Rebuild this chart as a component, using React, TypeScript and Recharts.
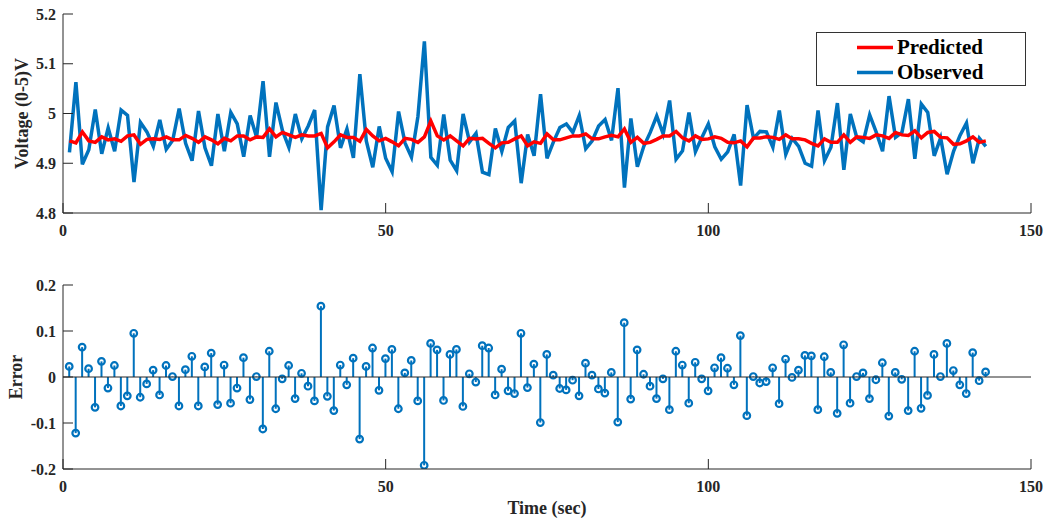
import React from 'react';
import {
  ComposedChart,
  Line,
  Bar,
  XAxis,
  YAxis,
  ReferenceLine,
  Legend,
  Label,
} from 'recharts';

// Readings for samples 1..143 (x = sample index, seconds)
const predicted = [
  4.945, 4.941, 4.963, 4.945, 4.942, 4.953, 4.947, 4.949, 4.944, 4.955,
  4.957, 4.938, 4.948, 4.949, 4.948, 4.953, 4.947, 4.947, 4.956, 4.950,
  4.942, 4.953, 4.947, 4.939, 4.950, 4.945, 4.955, 4.955, 4.947, 4.953,
  4.952, 4.969, 4.953, 4.962, 4.957, 4.952, 4.957, 4.955, 4.955, 4.960,
  4.931, 4.943, 4.957, 4.952, 4.952, 4.944, 4.968, 4.955, 4.945, 4.950,
  4.943, 4.935, 4.950, 4.948, 4.942, 4.953, 4.985, 4.955, 4.947, 4.955,
  4.945, 4.935, 4.950, 4.949, 4.950, 4.940, 4.931, 4.941, 4.942, 4.949,
  4.955, 4.935, 4.943, 4.940, 4.959, 4.947, 4.947, 4.951, 4.955, 4.955,
  4.959, 4.949, 4.949, 4.953, 4.956, 4.953, 4.969, 4.942, 4.952, 4.940,
  4.942, 4.948, 4.955, 4.955, 4.964, 4.951, 4.945, 4.955, 4.948, 4.949,
  4.953, 4.950, 4.942, 4.941, 4.945, 4.933, 4.951, 4.951, 4.953, 4.952,
  4.948, 4.957, 4.949, 4.949, 4.947, 4.940, 4.935, 4.949, 4.942, 4.942,
  4.957, 4.942, 4.953, 4.952, 4.950, 4.957, 4.955, 4.950, 4.962, 4.957,
  4.956, 4.965, 4.951, 4.962, 4.964, 4.952, 4.951, 4.938, 4.939, 4.945,
  4.953, 4.942, 4.945,
];

const observed = [
  4.922, 5.063, 4.898, 4.927, 5.008, 4.919, 4.971, 4.924, 5.007, 4.996,
  4.862, 4.982, 4.963, 4.934, 4.987, 4.928, 4.946, 5.010, 4.940, 4.905,
  5.005, 4.931, 4.895, 4.999, 4.924, 5.002, 4.979, 4.913, 4.996, 4.952,
  5.065, 4.913, 5.022, 4.966, 4.932, 4.999, 4.949, 4.975, 5.007, 4.806,
  4.973, 5.016, 4.931, 4.969, 4.911, 5.079, 4.945, 4.892, 4.974, 4.910,
  4.883, 5.004, 4.941, 4.912, 4.994, 5.145, 4.912, 4.896, 4.998, 4.906,
  4.885, 4.999, 4.943, 4.960, 4.882, 4.877, 4.970, 4.924, 4.972, 4.985,
  4.860, 4.958, 4.915, 5.039, 4.910, 4.943, 4.972, 4.979, 4.962, 4.996,
  4.929, 4.945, 4.975, 4.988, 4.946, 5.051, 4.851, 4.990, 4.893, 4.934,
  4.962, 4.995, 4.959, 5.026, 4.908, 4.925, 5.002, 4.923, 4.952, 4.979,
  4.933, 4.908, 4.923, 4.958, 4.855, 5.017, 4.950, 4.964, 4.963, 4.932,
  5.006, 4.918, 4.950, 4.934, 4.900, 4.894, 5.006, 4.905, 4.932, 5.021,
  4.887, 4.999, 4.952, 4.943, 4.997, 4.963, 4.924, 5.035, 4.952, 4.962,
  5.029, 4.909, 5.019, 5.002, 4.915, 4.951, 4.878, 4.924, 4.956, 4.981,
  4.900, 4.950, 4.934,
];

const error = [
  0.023, -0.122, 0.065, 0.018, -0.066, 0.034, -0.024, 0.025, -0.063, -0.041,
  0.095, -0.044, -0.015, 0.015, -0.039, 0.025, 0.001, -0.063, 0.016, 0.045,
  -0.063, 0.022, 0.052, -0.060, 0.026, -0.057, -0.024, 0.042, -0.049, 0.001,
  -0.113, 0.056, -0.069, -0.004, 0.025, -0.047, 0.008, -0.020, -0.052, 0.154,
  -0.042, -0.073, 0.026, -0.017, 0.041, -0.135, 0.023, 0.063, -0.029, 0.040,
  0.060, -0.069, 0.009, 0.036, -0.052, -0.192, 0.073, 0.059, -0.051, 0.049,
  0.060, -0.064, 0.007, -0.011, 0.068, 0.063, -0.039, 0.017, -0.030, -0.036,
  0.095, -0.023, 0.028, -0.099, 0.049, 0.004, -0.025, -0.028, -0.007, -0.041,
  0.030, 0.004, -0.026, -0.035, 0.010, -0.098, 0.118, -0.048, 0.059, 0.006,
  -0.020, -0.047, -0.004, -0.071, 0.056, 0.026, -0.057, 0.032, -0.004, -0.030,
  0.020, 0.042, 0.019, -0.017, 0.090, -0.084, 0.001, -0.013, -0.010, 0.020,
  -0.058, 0.039, -0.001, 0.015, 0.047, 0.046, -0.071, 0.044, 0.010, -0.079,
  0.070, -0.057, 0.001, 0.009, -0.047, -0.006, 0.031, -0.085, 0.010, -0.005,
  -0.073, 0.056, -0.068, -0.040, 0.049, 0.001, 0.073, 0.014, -0.017, -0.036,
  0.053, -0.008, 0.011,
];

const timeTicks = [0, 50, 100, 150];
const voltageTicks = [4.8, 4.9, 5, 5.1, 5.2];
const errorTicks = [-0.2, -0.1, 0, 0.1, 0.2];
const rmseText = 'RMSE = 0.049614';

const BLUE = '#0072BD';
const RED = '#FF0000';
const AXIS = '#262626';
const FONT = '"Liberation Serif", "Times New Roman", serif';
const TICK_LEN = 10;

const topRows = predicted.map((p, i) => ({ t: i + 1, predicted: p, observed: observed[i] }));
const errRows = error.map((e, i) => ({ t: i + 1, err: e }));

const textStyle = { fontFamily: FONT, fontWeight: 700, fill: AXIS };

// inward ticks, MATLAB style
const LeftTick = ({ x, y, payload }: any) => (
  <g>
    <line x1={x} x2={x + TICK_LEN} y1={y} y2={y} stroke={AXIS} />
    <text x={x - 7} y={y} textAnchor="end" dominantBaseline="central" fontSize={16} {...textStyle}>
      {String(payload.value)}
    </text>
  </g>
);

const RightTick = ({ x, y }: any) => (
  <line x1={x - TICK_LEN} x2={x} y1={y} y2={y} stroke={AXIS} />
);

const BottomTick = ({ x, y, payload }: any) => (
  <g>
    <line x1={x} x2={x} y1={y - TICK_LEN} y2={y} stroke={AXIS} />
    <text x={x} y={y + 17} textAnchor="middle" dominantBaseline="central" fontSize={16} {...textStyle}>
      {String(payload.value)}
    </text>
  </g>
);

const TopTick = ({ x, y }: any) => (
  <line x1={x} x2={x} y1={y} y2={y + TICK_LEN} stroke={AXIS} />
);

// stem + open circle marker
const Stem = (props: any) => {
  const { x, y, width, height, payload } = props;
  if (x == null || y == null) return null;
  const cx = x + width / 2;
  const a = y;
  const b = y + height;
  const tipY = payload.err >= 0 ? Math.min(a, b) : Math.max(a, b);
  const baseY = payload.err >= 0 ? Math.max(a, b) : Math.min(a, b);
  return (
    <g>
      <line x1={cx} x2={cx} y1={baseY} y2={tipY} stroke={BLUE} strokeWidth={2} />
      <circle cx={cx} cy={tipY} r={3.3} fill="none" stroke={BLUE} strokeWidth={2.2} />
    </g>
  );
};

const legendItems = [
  { name: 'Predicted', color: RED },
  { name: 'Observed', color: BLUE },
];

const renderLegend = () => (
  <div
    style={{
      width: 210,
      height: 54,
      boxSizing: 'border-box',
      border: '1px solid #333',
      background: '#fff',
      paddingTop: 2,
    }}
  >
    {legendItems.map((item) => (
      <div key={item.name} style={{ display: 'flex', alignItems: 'center', height: 25 }}>
        <svg width={80} height={25}>
          <line x1={40} x2={76} y1={12.5} y2={12.5} stroke={item.color} strokeWidth={3.5} />
        </svg>
        <span style={{ fontFamily: FONT, fontWeight: 700, fontSize: 21, color: '#000', lineHeight: '25px' }}>
          {item.name}
        </span>
      </div>
    ))}
  </div>
);

export default function App() {
  return (
    <div style={{ position: 'absolute', left: 0, top: 0, width: 1047, height: 521, background: '#fff' }}>
      {/* Voltage: predicted vs observed */}
      <div style={{ position: 'absolute', left: 0, top: 0 }}>
        <ComposedChart width={1047} height={250} data={topRows} margin={{ top: 14, right: 16, bottom: 0, left: 0 }}>
          <XAxis
            dataKey="t"
            type="number"
            domain={[0, 150]}
            ticks={timeTicks}
            interval={0}
            height={37}
            tickSize={0}
            tickMargin={0}
            tickLine={false}
            axisLine={{ stroke: AXIS }}
            tick={<BottomTick />}
            allowDataOverflow
          />
          <XAxis
            xAxisId="top"
            dataKey="t"
            type="number"
            orientation="top"
            domain={[0, 150]}
            ticks={timeTicks}
            interval={0}
            height={0}
            tickSize={0}
            tickMargin={0}
            tickLine={false}
            axisLine={{ stroke: AXIS }}
            tick={<TopTick />}
          />
          <YAxis
            type="number"
            domain={[4.8, 5.2]}
            ticks={voltageTicks}
            interval={0}
            width={63}
            tickSize={0}
            tickMargin={0}
            tickLine={false}
            axisLine={{ stroke: AXIS }}
            tick={<LeftTick />}
            allowDataOverflow
          >
            <Label
              content={({ viewBox }: any) => (
                <text
                  x={22}
                  y={viewBox.y + viewBox.height / 2}
                  transform={`rotate(-90 22 ${viewBox.y + viewBox.height / 2})`}
                  textAnchor="middle"
                  dominantBaseline="central"
                  fontSize={18}
                  {...textStyle}
                >
                  Voltage (0-5)V
                </text>
              )}
            />
          </YAxis>
          <YAxis
            yAxisId="right"
            orientation="right"
            type="number"
            domain={[4.8, 5.2]}
            ticks={voltageTicks}
            interval={0}
            width={0}
            tickSize={0}
            tickMargin={0}
            tickLine={false}
            axisLine={{ stroke: AXIS }}
            tick={<RightTick />}
          />
          <Line
            type="linear"
            dataKey="observed"
            name="Observed"
            stroke={BLUE}
            strokeWidth={3.5}
            dot={false}
            isAnimationActive={false}
          />
          <Line
            type="linear"
            dataKey="predicted"
            name="Predicted"
            stroke={RED}
            strokeWidth={3.5}
            dot={false}
            isAnimationActive={false}
          />
          <Legend
            layout="horizontal"
            verticalAlign="middle"
            align="center"
            content={renderLegend}
            wrapperStyle={{ position: 'absolute', left: 816, top: 32, width: 210, height: 54 }}
          />
        </ComposedChart>
      </div>

      {/* Error stems */}
      <div style={{ position: 'absolute', left: 0, top: 260 }}>
        <ComposedChart width={1047} height={261} data={errRows} margin={{ top: 25, right: 16, bottom: 0, left: 0 }}>
          <XAxis
            dataKey="t"
            type="number"
            domain={[0, 150]}
            ticks={timeTicks}
            interval={0}
            height={52}
            tickSize={0}
            tickMargin={0}
            tickLine={false}
            axisLine={{ stroke: AXIS }}
            tick={<BottomTick />}
            allowDataOverflow
          >
            <Label
              content={({ viewBox }: any) => (
                <text
                  x={viewBox.x + viewBox.width / 2}
                  y={viewBox.y + 39}
                  textAnchor="middle"
                  dominantBaseline="central"
                  fontSize={18}
                  {...textStyle}
                >
                  Time (sec)
                </text>
              )}
            />
          </XAxis>
          <XAxis
            xAxisId="top"
            dataKey="t"
            type="number"
            orientation="top"
            domain={[0, 150]}
            ticks={timeTicks}
            interval={0}
            height={0}
            tickSize={0}
            tickMargin={0}
            tickLine={false}
            axisLine={{ stroke: AXIS }}
            tick={<TopTick />}
          >
            <Label
              content={({ viewBox }: any) => (
                <text
                  x={viewBox.x + viewBox.width / 2}
                  y={viewBox.y - 14}
                  textAnchor="middle"
                  dominantBaseline="central"
                  fontSize={19}
                  {...textStyle}
                >
                  {rmseText}
                </text>
              )}
            />
          </XAxis>
          <YAxis
            type="number"
            domain={[-0.2, 0.2]}
            ticks={errorTicks}
            interval={0}
            width={63}
            tickSize={0}
            tickMargin={0}
            tickLine={false}
            axisLine={{ stroke: AXIS }}
            tick={<LeftTick />}
            allowDataOverflow
          >
            <Label
              content={({ viewBox }: any) => (
                <text
                  x={16}
                  y={viewBox.y + viewBox.height / 2}
                  transform={`rotate(-90 16 ${viewBox.y + viewBox.height / 2})`}
                  textAnchor="middle"
                  dominantBaseline="central"
                  fontSize={18}
                  {...textStyle}
                >
                  Error
                </text>
              )}
            />
          </YAxis>
          <YAxis
            yAxisId="right"
            orientation="right"
            type="number"
            domain={[-0.2, 0.2]}
            ticks={errorTicks}
            interval={0}
            width={0}
            tickSize={0}
            tickMargin={0}
            tickLine={false}
            axisLine={{ stroke: AXIS }}
            tick={<RightTick />}
          />
          <ReferenceLine y={0} stroke={AXIS} strokeWidth={1} />
          <Bar dataKey="err" barSize={2} shape={<Stem />} isAnimationActive={false} />
        </ComposedChart>
      </div>
    </div>
  );
}
